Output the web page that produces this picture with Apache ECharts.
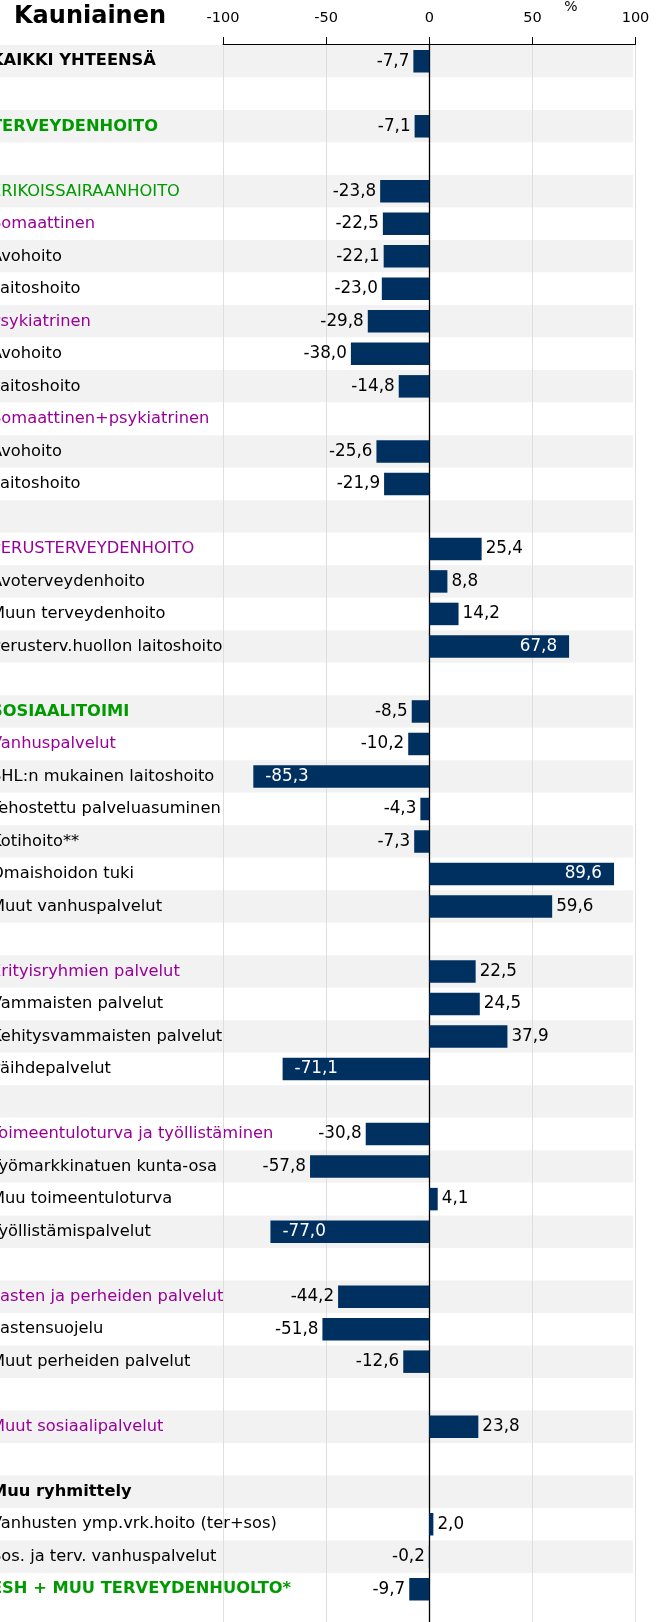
<!DOCTYPE html>
<html>
<head>
<meta charset="utf-8">
<script src="https://cdn.jsdelivr.net/npm/echarts@6/dist/echarts.min.js"></script>
<style>html,body{margin:0;padding:0;background:#fff}#c{width:664px;height:1622px}</style>
</head>
<body>
<div id="c"></div>
<script>
const chartTitle = 'Kauniainen';
const unitLabel = '%';
const axisMin = -100, axisMax = 100, axisStep = 50;

const categories = [
  'KAIKKI YHTEENSÄ', '',
  'TERVEYDENHOITO', '',
  'ERIKOISSAIRAANHOITO', 'Somaattinen', 'Avohoito', 'Laitoshoito',
  'Psykiatrinen', 'Avohoito', 'Laitoshoito',
  'Somaattinen+psykiatrinen', 'Avohoito', 'Laitoshoito', '',
  'PERUSTERVEYDENHOITO', 'Avoterveydenhoito', 'Muun terveydenhoito', 'Perusterv.huollon laitoshoito', '',
  'SOSIAALITOIMI', 'Vanhuspalvelut', 'SHL:n mukainen laitoshoito', 'Tehostettu palveluasuminen',
  'Kotihoito**', 'Omaishoidon tuki', 'Muut vanhuspalvelut', '',
  'Erityisryhmien palvelut', 'Vammaisten palvelut', 'Kehitysvammaisten palvelut', 'Päihdepalvelut', '',
  'Toimeentuloturva ja työllistäminen', 'Työmarkkinatuen kunta-osa', 'Muu toimeentuloturva', 'Työllistämispalvelut', '',
  'Lasten ja perheiden palvelut', 'Lastensuojelu', 'Muut perheiden palvelut', '',
  'Muut sosiaalipalvelut', '',
  'Muu ryhmittely', 'Vanhusten ymp.vrk.hoito (ter+sos)', 'Sos. ja terv. vanhuspalvelut',
  'ESH + MUU TERVEYDENHUOLTO*'
];

const kinds = [
  'total', 'item',
  'main', 'item',
  'mainThin', 'sub', 'item', 'item',
  'sub', 'item', 'item',
  'sub', 'item', 'item', 'item',
  'sub', 'item', 'item', 'item', 'item',
  'main', 'sub', 'item', 'item',
  'item', 'item', 'item', 'item',
  'sub', 'item', 'item', 'item', 'item',
  'sub', 'item', 'item', 'item', 'item',
  'sub', 'item', 'item', 'item',
  'sub', 'item',
  'total', 'item', 'item',
  'main'
];

const values = [
  -7.7, null,
  -7.1, null,
  -23.8, -22.5, -22.1, -23.0,
  -29.8, -38.0, -14.8,
  null, -25.6, -21.9, null,
  25.4, 8.8, 14.2, 67.8, null,
  -8.5, -10.2, -85.3, -4.3,
  -7.3, 89.6, 59.6, null,
  22.5, 24.5, 37.9, -71.1, null,
  -30.8, -57.8, 4.1, -77.0, null,
  -44.2, -51.8, -12.6, null,
  23.8, null,
  null, 2.0, -0.2,
  -9.7
];

const FONT = '"DejaVu Sans", Verdana, sans-serif';
const kindStyle = {
  total:    { color: '#000000', fontWeight: 'bold' },
  main:     { color: '#009900', fontWeight: 'bold' },
  mainThin: { color: '#009900', fontWeight: 'normal' },
  sub:      { color: '#990099', fontWeight: 'normal' },
  item:     { color: '#000000', fontWeight: 'normal' }
};
const fmt = v => v.toFixed(1).replace('.', ',');

const categoryItems = categories.map((c, i) => ({
  value: c,
  textStyle: Object.assign({ align: 'left', verticalAlign: 'middle', fontFamily: FONT, fontSize: 16.3 }, kindStyle[kinds[i]])
}));

function labelFor(v) {
  const inside = Math.abs(v) > 60;
  const neg = v < 0;
  return {
    show: true,
    position: inside ? (neg ? 'insideLeft' : 'insideRight') : (neg ? 'left' : 'right'),
    distance: inside ? 12 : 4,
    color: inside ? '#ffffff' : '#000000'
  };
}
const barItems = values.map(v => v == null ? null : { value: v, label: labelFor(v) });

const chart = echarts.init(document.getElementById('c'), null, { renderer: 'canvas' });
chart.setOption({
  animation: false,
  backgroundColor: '#ffffff',
  title: {
    text: chartTitle, left: 14, top: 4.5, padding: 0,
    textStyle: { fontFamily: FONT, fontSize: 24, fontWeight: 'bold', color: '#000' }
  },
  graphic: [{
    type: 'text', x: 571, y: 7, z: 10,
    style: { text: unitLabel, font: '14px "DejaVu Sans"', fill: '#000', align: 'center', verticalAlign: 'middle' }
  }],
  grid: [
    { left: 0, right: 31, top: 45, bottom: 16.5, outerBoundsMode: 'none', containLabel: false },
    { left: 223, right: 28.5, top: 44, bottom: 0, outerBoundsMode: 'none', containLabel: false },
    { left: 223, right: 28.5, top: 45, bottom: 16.5, outerBoundsMode: 'none', containLabel: false }
  ],
  xAxis: [
    { gridIndex: 0, type: 'value', show: false, min: 0, max: 1 },
    { gridIndex: 1, type: 'value', min: axisMin, max: axisMax, interval: axisStep, z: 1,
      axisLine: { show: false }, axisTick: { show: false }, axisLabel: { show: false },
      splitLine: { show: true, lineStyle: { color: '#dedede', width: 1 } } },
    { gridIndex: 2, type: 'value', position: 'top', offset: 1, min: axisMin, max: axisMax, interval: axisStep, z: 2,
      axisLine: { show: true, onZero: false, lineStyle: { color: '#000', width: 1 } },
      axisTick: { show: true, inside: false, length: 7, lineStyle: { color: '#000', width: 1 } },
      axisLabel: { margin: 18, fontFamily: FONT, fontSize: 14.5, color: '#000' },
      splitLine: { show: false } }
  ],
  yAxis: [
    { gridIndex: 0, type: 'category', inverse: true, data: categoryItems, z: 0,
      axisLine: { show: false }, axisTick: { show: false }, splitLine: { show: false },
      splitArea: { show: true, areaStyle: { color: ['#f2f2f2', '#ffffff'] } },
      axisLabel: { interval: 0, align: 'left', margin: 9, fontFamily: FONT, fontSize: 16.3 } },
    { gridIndex: 1, type: 'value', min: 0, max: 1, z: 2,
      axisLine: { show: true, onZero: true, lineStyle: { color: '#000', width: 1.3 } },
      axisTick: { show: false }, axisLabel: { show: false }, splitLine: { show: false } },
    { gridIndex: 2, type: 'category', inverse: true, data: categories, show: false }
  ],
  series: [{
    type: 'bar', xAxisIndex: 2, yAxisIndex: 2, data: barItems, barWidth: 22.5, z: 3,
    itemStyle: { color: '#00305f' },
    label: { fontFamily: FONT, fontSize: 16.8, formatter: p => fmt(p.value) }
  }]
});
</script>
</body>
</html>
